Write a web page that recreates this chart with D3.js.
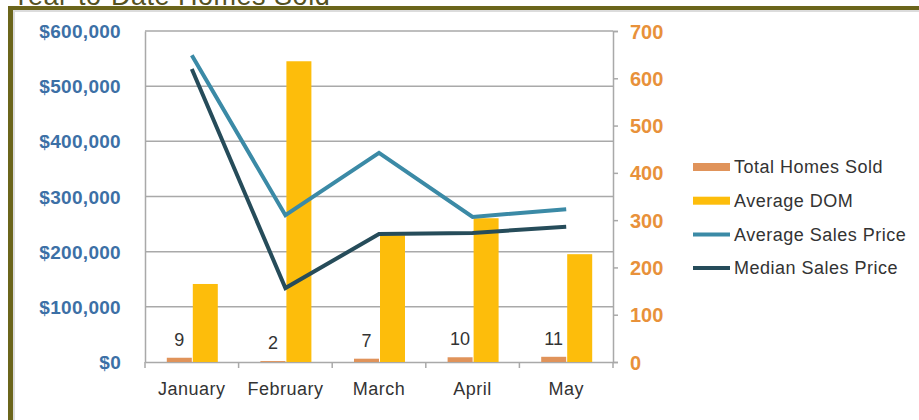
<!DOCTYPE html>
<html>
<head>
<meta charset="utf-8">
<script src="https://cdn.jsdelivr.net/npm/d3@7"></script>
<style>
  html, body { margin: 0; padding: 0; background: #fff; }
  svg { display: block; font-family: "Liberation Sans", Arial, sans-serif; }
</style>
</head>
<body>
<svg id="chart" width="919" height="420"></svg>
<script>
const months = ['January', 'February', 'March', 'April', 'May'];
const totalHomesSold = [9, 2, 7, 10, 11];
const averageDom = [165, 636, 268, 304, 228];
const averageSalesPrice = [556000, 266000, 379000, 263000, 277000];
const medianSalesPrice = [531000, 134000, 232000, 234000, 245000];
const priceTicks = [0, 100000, 200000, 300000, 400000, 500000, 600000];
const countTicks = [0, 100, 200, 300, 400, 500, 600, 700];

const svg = d3.select('#chart');

// Frame and title (title is cut by the top edge, as in the source image)
svg.append('text')
  .attr('x', 12).attr('y', 5)
  .style('font-size', '27px')
  .style('letter-spacing', '0.5px')
  .style('fill', '#55521f')
  .text('Year-to-Date Homes Sold');
svg.append('rect').attr('x', 8).attr('y', 6).attr('width', 911).attr('height', 4).attr('fill', '#6b651b');
svg.append('rect').attr('x', 8).attr('y', 6).attr('width', 5).attr('height', 414).attr('fill', '#6b651b');
svg.append('rect').attr('x', 13).attr('y', 10).attr('width', 906).attr('height', 2).attr('fill', '#dcdcdc');
svg.append('rect').attr('x', 13).attr('y', 10).attr('width', 2).attr('height', 410).attr('fill', '#dcdcdc');

const plotLeft = 145, plotRight = 613, plotTop = 31, plotBottom = 362;

const x = d3.scaleBand().domain(months).range([plotLeft, plotRight]);
const yPrice = d3.scaleLinear().domain([0, 600000]).range([plotBottom, plotTop]);
const yCount = d3.scaleLinear().domain([0, 700]).range([plotBottom, plotTop]);

// Gridlines
svg.append('g')
  .selectAll('line')
  .data(priceTicks.slice(1))
  .join('line')
  .attr('x1', plotLeft).attr('x2', plotRight)
  .attr('y1', d => yPrice(d)).attr('y2', d => yPrice(d))
  .attr('stroke', '#a9a9a9').attr('stroke-width', 1.5);

// Left axis
const leftAxis = svg.append('g')
  .attr('transform', `translate(${plotLeft},0)`)
  .call(d3.axisLeft(yPrice).tickValues(priceTicks).tickSize(0).tickPadding(24)
    .tickFormat(d => '$' + d3.format(',')(d)));
leftAxis.select('.domain').attr('stroke', '#a9a9a9').attr('stroke-width', 1.5);
leftAxis.selectAll('text')
  .style('font-size', '19px').style('font-weight', 'bold')
  .style('letter-spacing', '0.3px')
  .style('fill', '#3c70a6').attr('dy', '0.35em');

// Right axis
const rightAxis = svg.append('g')
  .attr('transform', `translate(${plotRight},0)`)
  .call(d3.axisRight(yCount).tickValues(countTicks).tickSize(5).tickPadding(12));
rightAxis.select('.domain').attr('stroke', '#a9a9a9').attr('stroke-width', 1.5);
rightAxis.selectAll('line').attr('stroke', '#a9a9a9').attr('stroke-width', 1.5);
rightAxis.selectAll('text')
  .style('font-size', '20px').style('font-weight', 'bold')
  .style('fill', '#e8913a').attr('dy', '0.35em');

// Bottom axis
const bottomAxis = svg.append('g')
  .attr('transform', `translate(0,${plotBottom})`)
  .call(d3.axisBottom(x).tickSize(0).tickPadding(20));
bottomAxis.select('.domain').attr('stroke', '#a9a9a9').attr('stroke-width', 1.5);
bottomAxis.selectAll('text')
  .style('font-size', '18px').style('letter-spacing', '0.5px').style('fill', '#333');
svg.append('g')
  .selectAll('line')
  .data(months.concat(['end']))
  .join('line')
  .attr('x1', (d, i) => plotLeft + i * x.step()).attr('x2', (d, i) => plotLeft + i * x.step())
  .attr('y1', plotBottom).attr('y2', plotBottom + 6)
  .attr('stroke', '#a9a9a9').attr('stroke-width', 1.5);

const barW = 25;
const center = m => x(m) + x.bandwidth() / 2;

// Total Homes Sold bars
svg.append('g')
  .selectAll('rect')
  .data(months)
  .join('rect')
  .attr('x', m => center(m) - barW)
  .attr('width', barW)
  .attr('y', (m, i) => yCount(totalHomesSold[i]))
  .attr('height', (m, i) => plotBottom - yCount(totalHomesSold[i]))
  .attr('fill', '#e0935a');

// Average DOM bars
svg.append('g')
  .selectAll('rect')
  .data(months)
  .join('rect')
  .attr('x', m => center(m) + 1)
  .attr('width', barW)
  .attr('y', (m, i) => yCount(averageDom[i]))
  .attr('height', (m, i) => plotBottom - yCount(averageDom[i]))
  .attr('fill', '#fdbd0b');

// Labels for homes sold
svg.append('g')
  .selectAll('text')
  .data(months)
  .join('text')
  .attr('x', m => center(m) - barW / 2)
  .attr('y', (m, i) => yCount(totalHomesSold[i]) - 12)
  .attr('text-anchor', 'middle')
  .style('font-size', '18px').style('fill', '#333')
  .text((m, i) => totalHomesSold[i]);

// Lines
const line = d3.line().x(d => center(d.m)).y(d => yPrice(d.v));
const lineSeries = [
  { name: 'Average Sales Price', values: averageSalesPrice, color: '#3b8aa6' },
  { name: 'Median Sales Price', values: medianSalesPrice, color: '#264c5a' }
];
lineSeries.forEach(s => {
  svg.append('path')
    .datum(months.map((m, i) => ({ m, v: s.values[i] })))
    .attr('d', line)
    .attr('fill', 'none')
    .attr('stroke', s.color)
    .attr('stroke-width', 4)
    .attr('stroke-linejoin', 'miter');
});

// Legend
const legendItems = [
  { name: 'Total Homes Sold', type: 'bar', color: '#e0935a' },
  { name: 'Average DOM', type: 'bar', color: '#fdbd0b' },
  { name: 'Average Sales Price', type: 'line', color: '#3b8aa6' },
  { name: 'Median Sales Price', type: 'line', color: '#264c5a' }
];
const legend = svg.append('g')
  .selectAll('g')
  .data(legendItems)
  .join('g')
  .attr('transform', (d, i) => `translate(693,${167 + i * 33.7})`);
legend.filter(d => d.type === 'bar').append('rect')
  .attr('x', 0).attr('y', -4).attr('width', 37).attr('height', 8)
  .attr('fill', d => d.color);
legend.filter(d => d.type === 'line').append('line')
  .attr('x1', 0).attr('x2', 37).attr('y1', 0).attr('y2', 0)
  .attr('stroke', d => d.color).attr('stroke-width', 4);
legend.append('text')
  .attr('x', 41).attr('dy', '0.35em')
  .style('font-size', '18px').style('letter-spacing', '0.5px').style('fill', '#333')
  .text(d => d.name);
</script>
</body>
</html>
